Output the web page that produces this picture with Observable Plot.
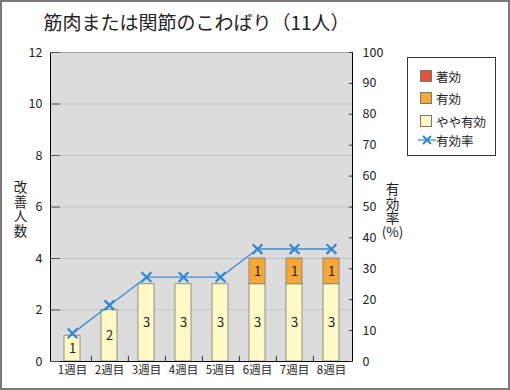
<!DOCTYPE html>
<html><head><meta charset="utf-8">
<script src="https://cdn.jsdelivr.net/npm/d3@7"></script>
<script src="https://cdn.jsdelivr.net/npm/@observablehq/plot@0.6"></script>
<style>
body{margin:0;background:#fff;}
#wrap{position:relative;width:510px;height:390px;font-family:"Noto Sans CJK JP","Noto Sans",sans-serif;overflow:hidden;}
#border{position:absolute;left:0;top:0;width:510px;height:390px;box-sizing:border-box;border:2px solid #7a7a7a;pointer-events:none;}
#legend{position:absolute;left:407px;top:57px;width:89px;height:99px;box-sizing:border-box;border:1px solid #333;background:#fff;font-size:12.5px;color:#222;}
.item{position:absolute;left:12px;height:14px;display:flex;align-items:center;white-space:nowrap;}
.sw{width:12px;height:12px;border:1px solid #777;margin-right:4px;box-sizing:border-box;}
.vert{writing-mode:vertical-rl;text-orientation:upright;letter-spacing:1px;}
</style></head>
<body>
<div id="wrap"></div>
<script>
const weeks = ["1週目","2週目","3週目","4週目","5週目","6週目","7週目","8週目"];
const yayaYuko = [1,2,3,3,3,3,3,3];
const yuko     = [0,0,0,0,0,1,1,1];
const chokou   = [0,0,0,0,0,0,0,0];
const rate     = [9.1,18.2,27.3,27.3,27.3,36.4,36.4,36.4];
const types = ["やや有効","有効","著効"];
const typeColors = ["#fff9c8","#f5a73a","#e05536"];
const leftTicks = [0,2,4,6,8,10,12];
const rightTicks = [0,10,20,30,40,50,60,70,80,90,100];
const title = "筋肉または関節のこわばり（11人）";
const leftLabel = "改善人数";
const rightLabel = "有効率";
const rightUnit = "(%)";

const rows = weeks.flatMap((w,i)=>[
  {week:w,type:"やや有効",value:yayaYuko[i]},
  {week:w,type:"有効",value:yuko[i]},
  {week:w,type:"著効",value:chokou[i]}
]).filter(d=>d.value>0);
const lineData = weeks.map((w,i)=>({week:w, rate:rate[i]}));
const toLeft = v => v*12/100;
const step = 302/8;

const chart = Plot.plot({
  width:510, height:390,
  marginTop:52, marginBottom:29, marginLeft:50, marginRight:158,
  style:{fontFamily:'"Noto Sans CJK JP","Noto Sans",sans-serif', color:"#222", background:"transparent", overflow:"visible"},
  x:{domain:weeks, paddingInner:0.58, paddingOuter:0.29, label:null, axis:null},
  y:{domain:[0,12], label:null, axis:null},
  color:{domain:types, range:typeColors},
  marks:[
    Plot.frame({fill:"#dcdcdc", stroke:"none"}),
    Plot.ruleY([2,4,6,8,10], {stroke:"#c2c2c2", strokeWidth:1}),
    Plot.frame({anchor:"top", stroke:"#a0a0a0"}),
    Plot.barY(rows, {x:"week", y:"value", fill:"type", order:types, stroke:"#7d7d66", strokeWidth:0.8}),
    Plot.text(rows, Plot.stackY({x:"week", y:"value", z:"type", order:types, text:d=>String(d.value), fontSize:13, fill:"#222"})),
    Plot.line(lineData, {x:"week", y:d=>toLeft(d.rate), stroke:"#3a8bd4", strokeWidth:1.3}),
    Plot.dot(lineData, {x:"week", y:d=>toLeft(d.rate), symbol:"times", r:4.5, stroke:"#2f86d2", strokeWidth:2.2}),
    Plot.ruleX(weeks.slice(0,-1), {x:d=>d, y1:0, y2:0.2, dx:step/2, stroke:"#333"}),
    Plot.frame({anchor:"left", stroke:"#000"}),
    Plot.frame({anchor:"right", stroke:"#000"}),
    Plot.frame({anchor:"bottom", stroke:"#000"}),
    Plot.axisY(leftTicks, {anchor:"left", tickSize:0, tickPadding:8, fontSize:12.5, label:null}),
    Plot.axisY(leftTicks, {anchor:"left", tickSize:-10, tickPadding:0, tickFormat:()=>"", stroke:"#555", label:null}),
    Plot.axisY(rightTicks.map(toLeft), {anchor:"right", tickSize:0, tickPadding:10, tickFormat:v=>String(Math.round(v*100/12)), fontSize:12.5, label:null}),
    Plot.axisY(rightTicks.map(toLeft), {anchor:"right", tickSize:-4, tickPadding:0, tickFormat:()=>"", stroke:"#333", label:null}),
    Plot.axisX({tickSize:0, tickPadding:4, fontSize:11.5, label:null}),
    Plot.text([leftLabel], {frameAnchor:"left", dx:-30, dy:-2, text:d=>d, fontSize:13.5, textAnchor:"middle", className:"vlabel"}),
    Plot.text([rightLabel], {frameAnchor:"right", dx:40, dy:-7, text:d=>d, fontSize:13.5, textAnchor:"middle", className:"vlabel"}),
    Plot.text([rightUnit], {frameAnchor:"right", dx:40, dy:26, text:d=>d, fontSize:13.5, textAnchor:"middle"}),
    Plot.text([title], {frameAnchor:"top-left", dx:-7, dy:-29, fontSize:19, textAnchor:"start", lineAnchor:"middle"})
  ]
});
chart.querySelectorAll("g.vlabel text, .vlabel text").forEach(t=>{
  t.classList.add("vert");
  t.removeAttribute("dy");
});
const wrap = document.getElementById("wrap");
wrap.appendChild(chart);

// legend
const legend = document.createElement("div");
legend.id = "legend";
const tops = [11,33,56];
types.slice().reverse().forEach((t,k)=>{
  const it = document.createElement("div");
  it.className = "item";
  it.style.top = tops[k] + "px";
  const sw = document.createElement("span");
  sw.className = "sw";
  sw.style.background = typeColors[types.indexOf(t)];
  it.appendChild(sw);
  it.appendChild(document.createTextNode(t));
  legend.appendChild(it);
});
const li = document.createElement("div");
li.className = "item";
li.style.top = "75px";
li.style.left = "10px";
li.innerHTML = '<svg width="18" height="14"><line x1="0" y1="7" x2="18" y2="7" stroke="#3a8bd4" stroke-width="1.3"/><path d="M5,3L13,11M13,3L5,11" stroke="#2f86d2" stroke-width="2"/></svg>';
li.appendChild(document.createTextNode("有効率"));
legend.appendChild(li);
wrap.appendChild(legend);

const border = document.createElement("div");
border.id = "border";
wrap.appendChild(border);
</script>
</body></html>
